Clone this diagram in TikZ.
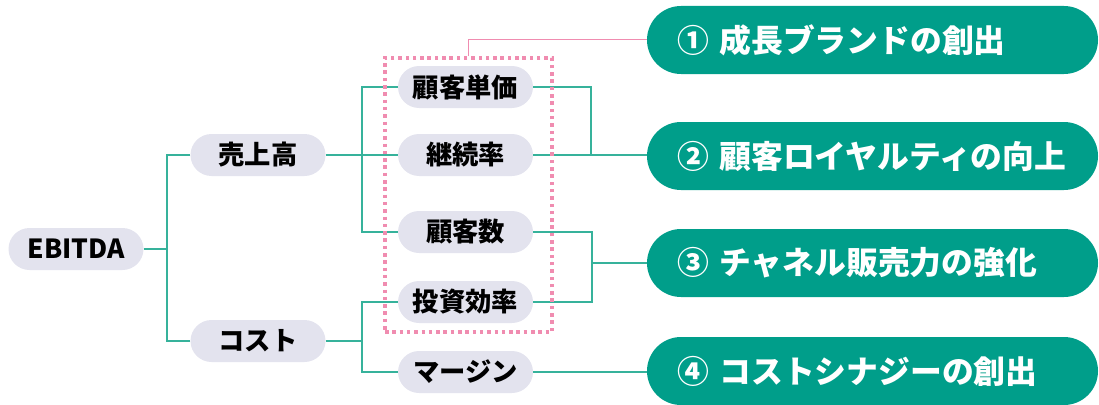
\documentclass[tikz,border=0pt]{standalone}
\usepackage{fontspec}
\setmainfont{Noto Sans CJK JP}
\definecolor{teal1}{HTML}{009E8A}
\definecolor{line1}{HTML}{36B29B}
\definecolor{grey1}{HTML}{E3E3EE}
\definecolor{pink1}{HTML}{F08CB0}
\tikzset{
  pill/.style={fill=grey1, rounded corners=21pt, minimum width=135pt, minimum height=42pt, inner sep=0pt, font=\fontsize{26.3}{30}\selectfont\bfseries},
  goal/.style={fill=teal1, text=white, rounded corners=34pt, minimum height=68pt, text width=391pt, inner xsep=30pt, inner ysep=0pt, align=left, font=\fontsize{31.8}{36}\selectfont\bfseries},
  conn/.style={line1, line width=1.5pt},
  pinkline/.style={pink1, line width=1pt},
  dotbox/.style={draw=pink1, line width=3.5pt, dash pattern=on 3.5pt off 3.8pt, minimum width=167pt, minimum height=274pt, inner sep=0pt}
}
\begin{document}
\begin{tikzpicture}[x=1pt,y=-1pt]
\useasboundingbox (0,0) rectangle (1099,404);
% nodes
\node[pill] (ebitda) at (76,249) {EBITDA};
\node[pill] (uriage) at (258,155) {売上高};
\node[pill] (cost) at (258,341) {コスト};
\node[pill] (tanka) at (465.5,87) {顧客単価};
\node[pill] (keizoku) at (465.5,155) {継続率};
\node[pill] (kyaku) at (465.5,232) {顧客数};
\node[pill] (toshi) at (465.5,302) {投資効率};
\node[pill] (margin) at (465.5,372) {マージン};
\node[goal] (g1) at (872.5,40) {① 成長ブランドの創出};
\node[goal] (g2) at (872.5,156) {② 顧客ロイヤルティの向上};
\node[goal] (g3) at (872.5,263) {③ チャネル販売力の強化};
\node[goal] (g4) at (872.5,371) {④ コストシナジーの創出};
% junctions
\coordinate (j0) at (167,249);
\coordinate (j1) at (362,155);
\coordinate (j2) at (362,341);
\coordinate (j3) at (591,155);
\coordinate (j4) at (592,263);
% connectors
\draw[conn] (ebitda.east) -- (j0);
\draw[conn] (uriage.west) -| (j0);
\draw[conn] (cost.west) -| (j0);
\draw[conn] (uriage.east) -- (keizoku.west);
\draw[conn] (tanka.west) -| (j1);
\draw[conn] (kyaku.west) -| (j1);
\draw[conn] (cost.east) -- (j2);
\draw[conn] (toshi.west) -| (j2);
\draw[conn] (margin.west) -| (j2);
\draw[conn] (tanka.east) -| (j3);
\draw[conn] (keizoku.east) -- (keizoku.east -| g2.west);
\draw[conn] (kyaku.east) -| (j4);
\draw[conn] (toshi.east) -| (j4);
\draw[conn] (j4) -- (g3.west);
\draw[conn] (margin.east) -- (margin.east -| g4.west);
% dotted box
\node[dotbox] (box) at (468.5,195) {};
\draw[pinkline] (box.north) |- (g1.west);
\end{tikzpicture}
\end{document}
